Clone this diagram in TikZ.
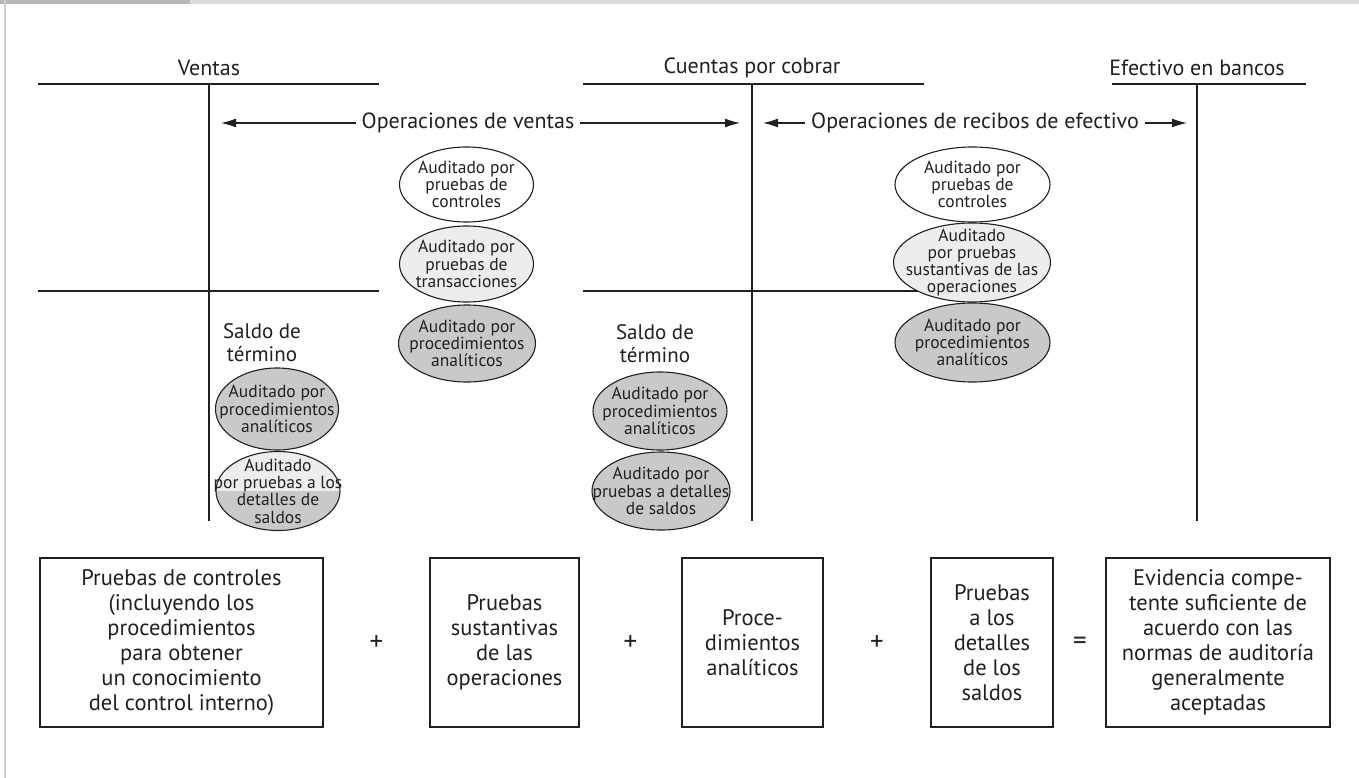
\documentclass[tikz,border=0pt]{standalone}
\usepackage{fontspec}
\setmainfont{PT Sans}
\usetikzlibrary{shapes.geometric,arrows.meta}
\definecolor{ink}{HTML}{231F20}
\definecolor{elight}{HTML}{EDEDED}
\definecolor{edark}{HTML}{C9C9C9}
\definecolor{bandgray}{HTML}{DCDCDC}
\definecolor{tabgray}{HTML}{B8B8B8}
\definecolor{sidegray}{HTML}{CDCDCD}
\begin{document}
\begin{tikzpicture}[x=1pt,y=-1pt,
  tline/.style={draw=ink,line width=1.2pt},
  head/.style={font=\fontsize{22}{25}\selectfont,text=ink,inner sep=0pt,align=center},
  opl/.style={font=\fontsize{22}{25}\selectfont,text=ink,inner xsep=6pt,inner ysep=0pt},
  arr/.style={draw=ink,line width=1.2pt,-{Latex[length=15pt,width=9pt]}},
  ell/.style={ellipse,draw=ink,line width=1.1pt,inner sep=0pt},
  etxt/.style={inner sep=0pt,align=center,text=ink,font=\fontsize{17.5}{17.3}\selectfont},
  bx/.style={draw=ink,line width=1.2pt,inner sep=0pt,align=center,text=ink,
    minimum height=169pt,font=\fontsize{22.5}{25}\selectfont},
  op/.style={text=ink,inner sep=0pt,font=\fontsize{27}{27}\selectfont}
]
\useasboundingbox (0,0) rectangle (1359,778);
% frame
\fill[bandgray] (0,0) rectangle (1359,4);
\fill[tabgray] (0,0) rectangle (190,4);
\fill[sidegray] (4,0) rectangle (6,778);

% headers
\node[head] (hv) at (209,68) {Ventas};
\node[head] (hc) at (752,68) {Cuentas por cobrar};
\node[head] (he) at (1197,68) {Efectivo en bancos};

% T accounts
\coordinate (v1) at (38,84);  \coordinate (v2) at (379,84);
\coordinate (vt) at (209,84); \coordinate (vb) at (209,521);
\coordinate (v3) at (38,291); \coordinate (v4) at (379,291);
\coordinate (c1) at (583,84); \coordinate (c2) at (924,84);
\coordinate (ct) at (752,84); \coordinate (cb) at (752,521);
\coordinate (c3) at (583,291); \coordinate (c4) at (950,291);
\coordinate (e1) at (1112,84); \coordinate (e2) at (1306,84);
\coordinate (et) at (1197,84); \coordinate (eb) at (1197,521);
\draw[tline] (v1) -- (v2); \draw[tline] (vt) -- (vb); \draw[tline] (v3) -- (v4);
\draw[tline] (c1) -- (c2); \draw[tline] (ct) -- (cb); \draw[tline] (c3) -- (c4);
\draw[tline] (e1) -- (e2); \draw[tline] (et) -- (eb);

% operation arrows
\node[opl] (ov) at (468,123) {Operaciones de ventas};
\coordinate (ovl) at (221,123); \coordinate (ovr) at (740,123);
\draw[arr] (ov.west) -- (ovl); \draw[arr] (ov.east) -- (ovr);
\node[opl] (orc) at (975,123) {Operaciones de recibos de efectivo};
\coordinate (orl) at (763,123); \coordinate (orr) at (1187,123);
\draw[arr] (orc.west) -- (orl); \draw[arr] (orc.east) -- (orr);

% ellipses, column ventas
\node[ell,fill=white,minimum width=134pt,minimum height=75pt] (a1) at (466.5,184.5) {};
\node[etxt] (a1t) at (a1) {Auditado por\\pruebas de\\controles};
\node[ell,fill=elight,minimum width=134pt,minimum height=76pt] (a2) at (466.5,264) {};
\node[etxt] (a2t) at (a2) {Auditado por\\pruebas de\\transacciones};
\node[ell,fill=edark,minimum width=137pt,minimum height=77pt] (a3) at (467,343.5) {};
\node[etxt] (a3t) at (a3) {Auditado por\\procedimientos\\anal\'iticos};
% ellipses, column recibos
\node[ell,fill=white,minimum width=155pt,minimum height=75pt] (b1) at (972.5,184.5) {};
\node[etxt] (b1t) at (b1) {Auditado por\\pruebas de\\controles};
\node[ell,fill=elight,minimum width=157pt,minimum height=79pt] (b2) at (972,262.5) {};
\node[etxt] (b2t) at (b2) {Auditado\\por pruebas\\sustantivas de las\\operaciones};
\node[ell,fill=edark,minimum width=155pt,minimum height=79pt] (b3) at (972.5,342.5) {};
\node[etxt] (b3t) at (b3) {Auditado por\\procedimientos\\anal\'iticos};

% saldo de termino
\node[head,font=\fontsize{21}{23}\selectfont] (s1) at (262,343) {Saldo de\\t\'ermino};
\node[head,font=\fontsize{21}{23}\selectfont] (s2) at (655,344) {Saldo de\\t\'ermino};
\node[ell,fill=edark,minimum width=123pt,minimum height=82pt] (d1) at (277,409) {};
\node[etxt] (d1t) at (d1) {Auditado por\\procedimientos\\anal\'iticos};
\node[ell,fill=edark,minimum width=124pt,minimum height=79pt,
  path picture={\fill[elight] (path picture bounding box.north west) rectangle (path picture bounding box.east);}] (d2) at (278,491) {};
\node[etxt] (d2t) at (d2) {Auditado\\por pruebas a los\\detalles de\\saldos};
\node[ell,fill=edark,minimum width=134pt,minimum height=78pt] (f1) at (660,411) {};
\node[etxt] (f1t) at (f1) {Auditado por\\procedimientos\\anal\'iticos};
\node[ell,fill=edark,minimum width=138pt,minimum height=78pt] (f2) at (661,491) {};
\node[etxt] (f2t) at (f2) {Auditado por\\pruebas a detalles\\de saldos};

% bottom boxes
\node[bx,minimum width=283pt] (k1) at (181.5,642.5) {Pruebas de controles\\(incluyendo los\\procedimientos\\para obtener\\un conocimiento\\del control interno)};
\node[op] (p1) at (376.5,643) {+};
\node[bx,minimum width=149pt] (k2) at (504.5,642.5) {Pruebas\\sustantivas\\de las\\operaciones};
\node[op] (p2) at (630.5,643) {+};
\node[bx,minimum width=141pt] (k3) at (752.5,642.5) {Proce-\\dimientos\\anal\'iticos};
\node[op] (p3) at (877,643) {+};
\node[bx,minimum width=122pt] (k4) at (992,642.5) {Pruebas\\a los\\detalles\\de los\\saldos};
\node[op] (p4) at (1080,643) {=};
\node[bx,minimum width=224pt] (k5) at (1218,642.5) {Evidencia compe-\\tente suficiente de\\acuerdo con las\\normas de auditor\'ia\\generalmente\\aceptadas};
\end{tikzpicture}
\end{document}
